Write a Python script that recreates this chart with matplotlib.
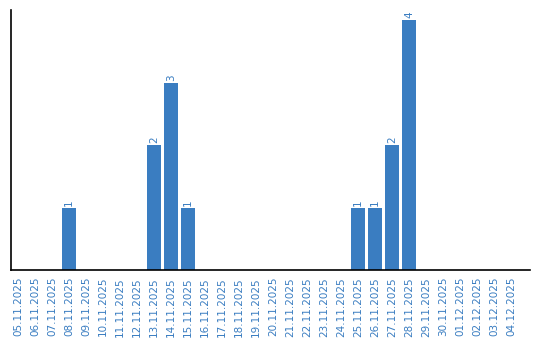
import matplotlib
matplotlib.use("Agg")
import matplotlib.pyplot as plt
import numpy as np
import datetime as dt

start = dt.date(2025, 11, 5)
dates = [(start + dt.timedelta(days=i)).strftime("%d.%m.%Y") for i in range(30)]
counts_map = {"08.11.2025": 1, "13.11.2025": 2, "14.11.2025": 3, "15.11.2025": 1,
              "25.11.2025": 1, "26.11.2025": 1, "27.11.2025": 2, "28.11.2025": 4}
values = [counts_map.get(d, 0) for d in dates]

blue = "#3a7dc1"
fig = plt.figure(figsize=(5.4, 3.4), dpi=100)
ax = fig.add_axes([11/540, 1 - 270/340, (530-11)/540, 260/340])
x = np.arange(len(dates))
bars = ax.bar(x, values, width=0.82, color=blue)
for xi, v in zip(x, values):
    if v > 0:
        ax.text(xi, v + 0.03, str(v), rotation=90, ha="center", va="bottom",
                fontsize=7.5, color=blue)
ax.set_xlim(-0.41, 30.12)
ax.set_ylim(0, 4.16)
ax.set_xticks(x)
ax.set_xticklabels(dates, rotation=90, fontsize=7.5, color=blue)
ax.tick_params(axis="x", length=0, pad=5)
ax.set_yticks([])
for s in ["top", "right"]:
    ax.spines[s].set_visible(False)
for s in ["left", "bottom"]:
    ax.spines[s].set_linewidth(1.2)
    ax.spines[s].set_color("black")
fig.savefig("out.png", dpi=100)
